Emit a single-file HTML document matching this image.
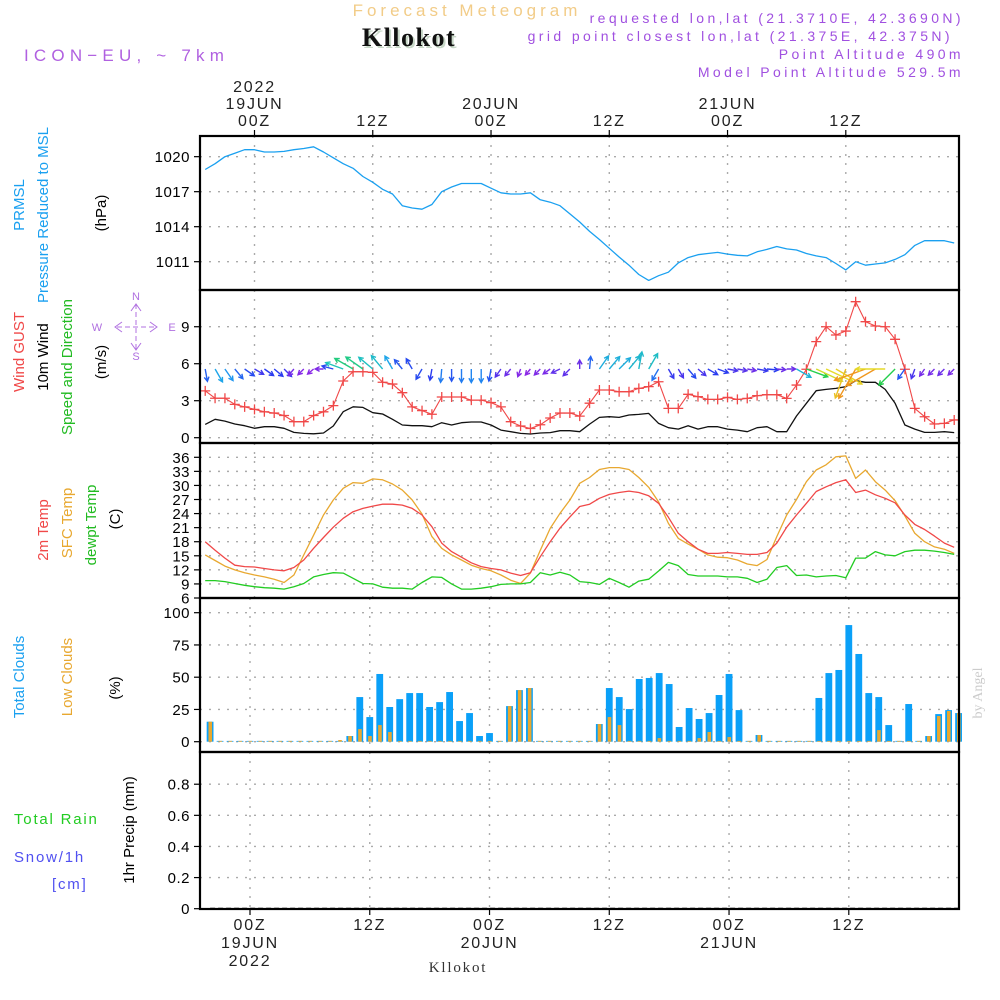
<!DOCTYPE html>
<html><head><meta charset="utf-8"><title>Forecast Meteogram Kllokot</title>
<style>
html,body{margin:0;padding:0;background:#fff;}
svg{display:block;font-family:"Liberation Sans",sans-serif;}
</style></head>
<body>
<svg id="chart" width="1000" height="1000" viewBox="0 0 1000 1000" xmlns="http://www.w3.org/2000/svg">
<g id="header">
<text x="467" y="16" text-anchor="middle" font-size="17" letter-spacing="4" fill="#f2cc88">Forecast Meteogram</text>
<text x="411" y="48" text-anchor="middle" font-family="Liberation Serif, serif" font-weight="bold" font-size="26" letter-spacing="1.5" fill="#c8d8c8">Kllokot</text>
<text x="409" y="46" text-anchor="middle" font-family="Liberation Serif, serif" font-weight="bold" font-size="26" letter-spacing="1.5" fill="#111">Kllokot</text>
<text x="24" y="61" font-size="17" letter-spacing="5.2" fill="#b060e0">ICON−EU, ~ 7km</text>
<text x="964" y="23" text-anchor="end" font-size="14" letter-spacing="3.4" fill="#a050e0">requested lon,lat (21.3710E, 42.3690N)</text>
<text x="953" y="41" text-anchor="end" font-size="14" letter-spacing="3.4" fill="#a050e0">grid point closest lon,lat (21.375E, 42.375N)</text>
<text x="964" y="59" text-anchor="end" font-size="14" letter-spacing="3.4" fill="#a050e0">Point Altitude 490m</text>
<text x="964" y="77" text-anchor="end" font-size="14" letter-spacing="3.4" fill="#a050e0">Model Point Altitude 529.5m</text>
</g>
<g id="grid"></g>
<g id="marks"></g>
<g id="frames"></g>
<g id="labels"></g>
</svg>
<script>
// ---------- data (hourly from h=-5 to h=71, h=0 is 00Z 19JUN) ----------
const startHour = -5;
const pressure = [1018.9,1019.4,1020.0,1020.3,1020.6,1020.6,1020.4,1020.4,1020.45,1020.6,1020.7,1020.85,1020.4,1019.9,1019.4,1019.0,1018.3,1017.8,1017.2,1016.8,1015.8,1015.6,1015.5,1015.9,1017.0,1017.4,1017.7,1017.7,1017.7,1017.3,1016.9,1016.8,1016.8,1016.9,1016.3,1016.1,1015.8,1015.1,1014.4,1013.6,1012.9,1012.15,1011.4,1010.7,1009.9,1009.4,1009.8,1010.1,1010.9,1011.35,1011.6,1011.7,1011.8,1011.65,1011.55,1011.5,1011.85,1012.05,1012.3,1012.1,1012.0,1011.7,1011.5,1011.35,1010.85,1010.3,1011.0,1010.7,1010.8,1010.9,1011.2,1011.6,1012.4,1012.8,1012.8,1012.8,1012.6];
const windGust = [3.8,3.2,3.2,2.7,2.5,2.3,2.1,2.0,1.8,1.3,1.3,1.8,2.1,2.6,4.6,5.35,5.35,5.3,4.5,4.35,3.65,2.5,2.2,1.9,3.3,3.3,3.3,3.05,3.05,2.85,2.5,1.3,0.95,0.75,1.05,1.6,2.0,2.0,1.75,2.8,3.87,3.87,3.73,3.73,4.0,4.14,4.54,2.38,2.38,3.52,3.33,3.11,3.11,3.27,3.11,3.19,3.41,3.49,3.49,3.19,4.27,5.55,7.79,9.0,8.33,8.65,11.03,9.41,9.06,9.0,7.98,5.55,2.38,1.70,1.11,1.16,1.44];
const windSpeed = [1.08,1.49,1.35,1.11,0.97,0.76,0.89,0.89,0.76,0.43,0.35,0.32,0.38,0.95,2.11,2.51,2.46,2.03,1.92,1.49,1.03,0.97,0.97,0.89,1.22,1.03,1.22,1.27,1.27,1.03,0.62,0.49,0.35,0.30,0.38,0.41,0.57,0.57,0.49,1.1,1.65,1.70,1.65,1.84,1.89,1.97,1.16,0.81,0.70,0.97,0.70,0.89,0.89,0.70,0.62,0.49,0.81,0.89,0.49,0.49,1.76,2.79,3.81,3.92,4.0,4.14,4.62,4.49,4.49,3.92,2.79,1.03,0.70,0.43,0.43,0.49,0.41];
const windDir = [170,150,145,140,125,120,125,130,135,220,225,230,270,285,290,300,305,310,320,330,320,330,210,190,185,180,180,180,180,190,215,220,200,220,225,235,245,225,0,5,35,40,45,40,10,30,210,150,150,140,130,120,110,100,100,100,100,95,95,90,120,110,115,115,120,200,210,250,240,270,225,215,200,215,225,225,225];
const temp2m = [18.0,16.2,14.5,13.0,12.7,12.6,12.3,12.0,11.8,12.5,14.1,16.6,18.9,21.1,23.0,24.4,25.1,25.6,26.0,26.0,25.8,25.1,23.7,21.2,17.7,15.9,14.7,13.5,12.7,12.3,12.0,11.3,10.8,11.4,14.8,18.0,20.9,23.3,25.5,26.0,27.25,28.1,28.5,28.8,28.5,27.8,26.2,23.2,19.8,18.0,16.4,15.5,15.5,15.7,15.5,15.3,15.3,15.7,17.7,21.1,23.7,26.2,28.7,29.7,30.6,31.2,28.5,29.0,28.0,27.25,26.3,23.7,21.7,20.6,19.2,17.7,16.8];
const tempSfc = [15.2,14.0,12.8,12.0,11.4,10.9,10.5,10.0,9.3,10.9,15.2,19.4,23.7,26.9,29.4,30.6,30.45,31.4,31.2,30.3,29.0,26.9,23.9,19.1,16.6,15.2,14.1,13.0,12.3,11.8,10.9,9.8,9.1,11.3,16.2,20.85,24.05,26.9,30.45,31.7,33.4,33.8,33.8,33.4,31.7,29.6,26.5,21.9,18.7,17.5,16.4,15.2,14.7,14.6,14.1,13.25,12.9,14.2,19.1,23.7,27.0,30.8,33.3,34.4,36.1,36.3,31.5,33.3,30.8,29.0,26.75,23.5,19.8,18.0,16.9,16.4,15.5];
const dewpt = [9.7,9.7,9.5,9.1,8.7,8.4,8.2,8.1,7.9,8.4,9.1,10.5,11.0,11.4,11.3,10.2,9.1,9.0,8.3,8.1,8.1,7.9,9.3,10.5,10.4,9.0,7.9,7.9,8.1,8.4,8.9,9.0,9.0,9.3,11.4,10.9,11.5,10.9,9.5,9.3,8.9,10.2,9.3,8.3,9.6,10.0,11.75,13.6,12.9,11.0,10.7,10.7,10.7,10.5,10.5,10.2,9.3,10.0,12.5,12.9,10.8,10.9,10.5,10.7,10.8,10.3,14.5,14.5,15.9,15.2,15.0,15.9,16.2,16.2,16.0,15.7,15.3];
// clouds: 76 hourly bars starting at h=-4
const cloudStartHour = -4;
const totalClouds = [15.5,0,0,0,0,0,0,0,0,0,0,0,0,0,4.4,34.6,19.1,52.5,26.9,33,37.7,37.7,26.9,30.7,38.5,16,22.2,4.4,6.7,0,27.6,40,41.6,0,0,0,0,0,0,13.7,41.6,34.6,25.3,48.6,49.4,53.2,44.7,11.4,26.1,17.6,22.2,36.2,52.5,24.5,0,5.2,0,0,0,0,0,33.9,53.2,55.6,90.4,68,37.7,34.6,12.9,0,29.2,0,4.4,21.4,24.5,22.2];
const lowClouds = [15.5,0,0,0,0,0,0,0,0,0,0,0,0,1.3,4.4,9.8,4.4,12.9,7.5,0,0,0,0,0,0,0,0,0,0,0,27.6,40,41.6,0,0,0,0,0,0,13.7,19.1,12.9,0,0,0,2.8,0,0,0,2.8,7.5,0,3.6,0,0,5.2,0,0,0,0,0,0,0,0,0,0,0,9,0,0,0,0,4.4,19.9,23.8,22.2];
const precip = new Array(76).fill(0);
// tick labels
const pressureTicks = [1011,1014,1017,1020];
const windTicks = [0,3,6,9];
const tempTicks = [6,9,12,15,18,21,24,27,30,33,36];
const cloudTicks = [0,25,50,75,100];
const precipTicks = [0,0.2,0.4,0.6,0.8];
const timeTicks = [0,12,24,36,48,60];
const timeTopLabels = [["2022","19JUN","00Z"],["","","12Z"],["","20JUN","00Z"],["","","12Z"],["","21JUN","00Z"],["","","12Z"]];
const timeBottomLabels = [["00Z","19JUN","2022"],["12Z","",""],["00Z","20JUN",""],["12Z","",""],["00Z","21JUN",""],["12Z","",""]];

// ---------- layout ----------
const NS = "http://www.w3.org/2000/svg";
const L = 200, R = 959;
const xT = h => 254.5 + 9.855*h;          // upper panels
const xC = h => 250 + 9.98*h;             // cloud/precip panels
const P = {
  pres:{top:136,bot:290, y:v=>261.7-(v-1011)*11.67},
  wind:{top:290,bot:443, y:v=>437.7-v*12.33},
  temp:{top:443,bot:598, y:v=>598-(v-6)*4.69},
  cloud:{top:598,bot:752, y:v=>741.7-v*1.29},
  prec:{top:752,bot:909, y:v=>908.7-v*155.6}
};
function el(tag, attrs, parent, txt){
  const e = document.createElementNS(NS, tag);
  for (const k in attrs) e.setAttribute(k, attrs[k]);
  if (txt!==undefined) e.textContent = txt;
  parent.appendChild(e);
  return e;
}
const G = document.getElementById('grid'), M = document.getElementById('marks'),
      F = document.getElementById('frames'), T = document.getElementById('labels');

function panelGrid(p, ticks, xs, name, fmt){
  ticks.forEach(t=>{
    const y = p.y(t);
    const g = el('line',{x1:L,x2:R,y1:y,y2:y,stroke:'#aaa','stroke-width':1.4,'stroke-dasharray':'2,7'},G);
    
    
    const tk = el('line',{x1:L-6,x2:L,y1:y,y2:y,stroke:'#000','stroke-width':1.2},F);
    
    
    const lb = el('text',{x:L-10,y:y+5.5,'text-anchor':'end','font-size':15,'letter-spacing':0.5,fill:'#000'},T,fmt?fmt(t):String(t));
    
    
  });
  timeTicks.forEach(h=>{
    const x = xs(h);
    const g = el('line',{x1:x,x2:x,y1:p.top,y2:p.bot,stroke:'#aaa','stroke-width':1.4,'stroke-dasharray':'2,7'},G);
    
    
  });
}
panelGrid(P.pres, pressureTicks, xT, 'pressure');
panelGrid(P.wind, windTicks, xT, 'wind');
panelGrid(P.temp, tempTicks, xT, 'temp');
panelGrid(P.cloud, cloudTicks, xC, 'cloud');
panelGrid(P.prec, precipTicks, xC, 'precip', t=>t===0?'0':t.toFixed(1));

function pathFrom(arr, xs, yf, h0){
  return arr.map((v,i)=>(i?'L':'M')+xs(h0+i).toFixed(1)+','+yf(v).toFixed(1)).join(' ');
}
function line(arr, xs, yf, color, name, w){
  const p = el('path',{d:pathFrom(arr,xs,yf,startHour),fill:'none',stroke:color,'stroke-width':w||1.3,'stroke-linejoin':'round'},M);
  
  
}
line(pressure, xT, P.pres.y, '#1aa0f0', 'pressure-line');
line(windSpeed, xT, P.wind.y, '#111', 'wind-speed-line');
line(windGust, xT, P.wind.y, '#f04848', 'wind-gust-line', 1.1);
windGust.forEach((v,i)=>{
  const x = xT(startHour+i), y = P.wind.y(v);
  const g = el('path',{d:`M${x-5},${y}H${x+5}M${x},${y-5}V${y+5}`,stroke:'#f04848','stroke-width':1.3},M);
  
  
});
function speedColor(s){
  const stops=[[0.3,[140,40,230]],[0.9,[40,60,240]],[1.4,[30,160,240]],[2.2,[30,200,180]],[3.0,[40,210,40]],[3.9,[230,220,40]],[4.5,[240,150,30]]];
  if (s<=stops[0][0]) return 'rgb('+stops[0][1]+')';
  for (let i=1;i<stops.length;i++){
    if (s<=stops[i][0]){
      const a=stops[i-1], b=stops[i], f=(s-a[0])/(b[0]-a[0]);
      return 'rgb('+a[1].map((c,j)=>Math.round(c+(b[1][j]-c)*f)).join(',')+')';
    }
  }
  return 'rgb('+stops[stops.length-1][1]+')';
}
windDir.forEach((d,i)=>{
  const s = windSpeed[i];
  const x = xT(startHour+i), y = 369;
  const len = 6 + s*6;
  const a = (d-90)*Math.PI/180;
  const x2 = x + len*Math.cos(a), y2 = y + len*Math.sin(a);
  const hl = 5, ha = 0.5;
  const b1 = [x2 - hl*Math.cos(a-ha), y2 - hl*Math.sin(a-ha)];
  const b2 = [x2 - hl*Math.cos(a+ha), y2 - hl*Math.sin(a+ha)];
  const c = speedColor(s);
  const g = el('path',{d:`M${x.toFixed(1)},${y}L${x2.toFixed(1)},${y2.toFixed(1)}M${b1[0].toFixed(1)},${b1[1].toFixed(1)}L${x2.toFixed(1)},${y2.toFixed(1)}L${b2[0].toFixed(1)},${b2[1].toFixed(1)}`,stroke:c,'stroke-width':1.4,fill:'none'},M);
  
  
});
line(tempSfc, xT, P.temp.y, '#e8a830', 'sfc-temp-line');
line(temp2m, xT, P.temp.y, '#f04848', '2m-temp-line');
line(dewpt, xT, P.temp.y, '#22cc22', 'dewpoint-line');
totalClouds.forEach((v,i)=>{
  const x = xC(cloudStartHour+i), y0 = P.cloud.y(0), y = P.cloud.y(v);
  const r = el('rect',{x:x-3.4,y:Math.min(y,y0-0.8),width:6.8,height:Math.max(y0-y,0.8),fill:'#0aa0f8'},M);
  
  
});
lowClouds.forEach((v,i)=>{
  const x = xC(cloudStartHour+i), y0 = P.cloud.y(0), y = P.cloud.y(v);
  const r = el('rect',{x:x-1.6,y:Math.min(y,y0-0.8),width:3.6,height:Math.max(y0-y,0.8),fill:'#e8a830'},M);
  
  
});
const pl = el('path',{d:precip.map((v,i)=>(i?'L':'M')+xC(cloudStartHour+i).toFixed(1)+','+P.prec.y(v).toFixed(1)).join(' '),fill:'none',stroke:'#000','stroke-width':2,'stroke-dasharray':'5,3'},M);



[P.pres,P.wind,P.temp,P.cloud,P.prec].forEach(p=>{
  const r = el('rect',{x:L,y:p.top,width:R-L,height:p.bot-p.top,fill:'none',stroke:'#000','stroke-width':2.2},F);
  
  
});
timeTicks.forEach((h,i)=>{
  const x = xT(h);
  const tk = el('line',{x1:x,x2:x,y1:130,y2:136,stroke:'#000','stroke-width':1.2},F);
  
  
  timeTopLabels[i].forEach((s,j)=>{ if(!s) return;
    const t = el('text',{x:x,y:92+j*17,'text-anchor':'middle','font-size':16,'letter-spacing':1.8,fill:'#222'},T,s);
    
    
  });
  const xb = xC(h);
  const tb = el('line',{x1:xb,x2:xb,y1:909,y2:915,stroke:'#000','stroke-width':1.2},F);
  
  
  timeBottomLabels[i].forEach((s,j)=>{ if(!s) return;
    const t = el('text',{x:xb,y:930+j*18,'text-anchor':'middle','font-size':16,'letter-spacing':1.8,fill:'#222'},T,s);
    
    
  });
});
function vtext(x,y,s,color,name,size){
  const t = el('text',{x:x,y:y,'text-anchor':'middle','font-size':size||15,fill:color,transform:`rotate(-90 ${x} ${y})`},T,s);
  
  
}
vtext(24,205,'PRMSL','#1aa0f0','pressure-title');
vtext(48,215,'Pressure Reduced to MSL','#1aa0f0','pressure-subtitle');
vtext(106,213,'(hPa)','#000','pressure-unit');
vtext(24,352,'Wind GUST','#f04848','wind-gust-title');
vtext(48,357,'10m Wind','#000','wind-title');
vtext(72,367,'Speed and Direction','#22bb22','wind-subtitle');
vtext(106,362,'(m/s)','#000','wind-unit');
vtext(48,530,'2m Temp','#f04848','temp-2m-title');
vtext(72,523,'SFC Temp','#e8a830','temp-sfc-title');
vtext(96,525,'dewpt Temp','#22bb22','dewpoint-title');
vtext(120,519,'(C)','#000','temp-unit');
vtext(24,677,'Total Clouds','#1aa0f0','total-clouds-title');
vtext(72,677,'Low Clouds','#e8a830','low-clouds-title');
vtext(120,688,'(%)','#000','clouds-unit');
vtext(134,830,'1hr Precip (mm)','#000','precip-title');
const ang = el('text',{x:982,y:693,'text-anchor':'middle','font-size':14,fill:'#ccc','font-family':'Liberation Serif, serif',transform:'rotate(-90 982 693)'},T,'by Angel');


function htext(x,y,s,color,name,anchor,size,extra){
  const t = el('text',Object.assign({x:x,y:y,'text-anchor':anchor||'start','font-size':size||15,fill:color,'letter-spacing':1.8},extra||{}),T,s);
  
  
}
htext(14,824,'Total   Rain','#22cc22','rain-legend',null,15,{'xml:space':'preserve'});
htext(14,862,'Snow/1h','#5050f0','snow-legend');
htext(52,889,'[cm]','#5050f0','snow-unit');
htext(458,972,'Kllokot','#333','footer-location','middle',15,{'font-family':'Liberation Serif, serif'});
const cg = el('g',{stroke:'#b070e0','stroke-width':1,fill:'none'},T);


el('path',{d:'M136,304V350M117,327H155','stroke-dasharray':'5,3'},cg);
el('path',{d:'M122,322L115,327L122,332M150,322L157,327L150,332M131,311L136,304L141,311M131,343L136,350L141,343'},cg);
htext(136,300,'N','#b070e0','compass-n','middle',11,{'letter-spacing':0});
htext(136,360,'S','#b070e0','compass-s','middle',11,{'letter-spacing':0});
htext(97,331,'W','#b070e0','compass-w','middle',11,{'letter-spacing':0});
htext(172,331,'E','#b070e0','compass-e','middle',11,{'letter-spacing':0});
</script>
</body></html>
